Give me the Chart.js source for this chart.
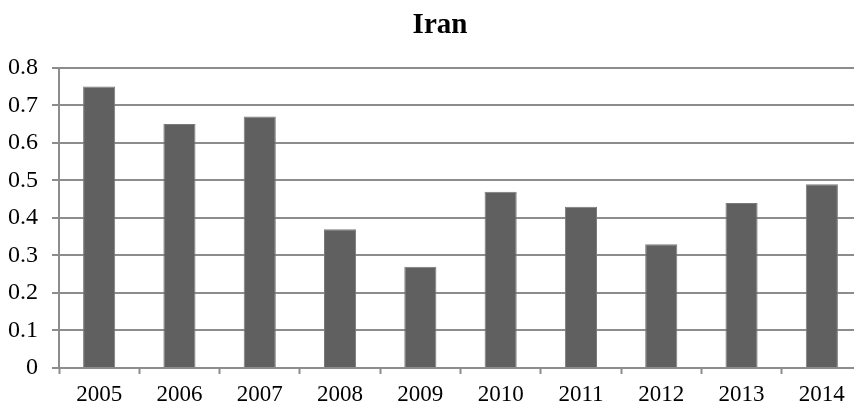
<!DOCTYPE html>
<html>
<head>
<meta charset="utf-8">
<script src="https://cdn.jsdelivr.net/npm/chart.js@4"></script>
<style>
  body { margin: 0; background: #fff; }
  #c { display: block; }
</style>
</head>
<body>
<canvas id="c" width="854" height="405"></canvas>
<script>
const years = ["2005", "2006", "2007", "2008", "2009", "2010", "2011", "2012", "2013", "2014"];
const values = [0.75, 0.65, 0.67, 0.37, 0.27, 0.47, 0.43, 0.33, 0.44, 0.49];
const yTicks = [0, 0.1, 0.2, 0.3, 0.4, 0.5, 0.6, 0.7, 0.8];

const serif = "'Liberation Serif', 'Times New Roman', serif";

// the original plot runs off the right edge of the picture
const plotRight = 862;

const layoutTweaks = {
  id: "layoutTweaks",
  afterLayout(chart) {
    // title centres a bit right of the canvas middle
    if (chart.titleBlock) chart.titleBlock.left = 18;
    // stretch the plot past the canvas edge
    chart.chartArea.right = plotRight;
    chart.chartArea.width = plotRight - chart.chartArea.left;
    const x = chart.scales.x;
    x.right = plotRight;
    x.width = plotRight - x.left;
    x.configure();
  }
};

const chart = new Chart(document.getElementById("c").getContext("2d"), {
  type: "bar",
  data: {
    labels: years,
    datasets: [{
      data: values,
      backgroundColor: "#606060",
      borderColor: "#7a7a7a",
      borderWidth: 1,
      barPercentage: 0.8,
      categoryPercentage: 0.5
    }]
  },
  options: {
    responsive: false,
    animation: false,
    layout: { padding: { left: 0, right: -8, top: 0, bottom: 0 } },
    plugins: {
      legend: { display: false },
      tooltip: { enabled: false },
      title: {
        display: true,
        text: "Iran",
        color: "#000",
        font: { family: serif, size: 29, weight: "bold" },
        padding: { top: 8, bottom: 25 }
      }
    },
    scales: {
      x: {
        offset: true,
        afterFit: (axis) => { axis.height = 37; },
        grid: {
          offset: true,
          drawOnChartArea: false,
          color: "#8c8c8c",
          tickLength: 6,
          tickWidth: 2
        },
        border: { color: "#8c8c8c", width: 2 },
        ticks: {
          color: "#000",
          font: { family: serif, size: 23, lineHeight: 1 },
          padding: 9,
          maxRotation: 0
        }
      },
      y: {
        min: 0,
        max: 0.8,
        afterFit: (axis) => { axis.width = 59; },
        afterBuildTicks: (axis) => {
          axis.ticks = yTicks.map(v => ({ value: v }));
        },
        grid: {
          color: "#8c8c8c",
          lineWidth: 2,
          tickLength: 7
        },
        border: { color: "#8c8c8c", width: 2 },
        ticks: {
          color: "#000",
          font: { family: serif, size: 24 },
          padding: 14,
          callback: (v) => String(Math.round(v * 10) / 10)
        }
      }
    }
  },
  plugins: [layoutTweaks]
});
</script>
</body>
</html>
